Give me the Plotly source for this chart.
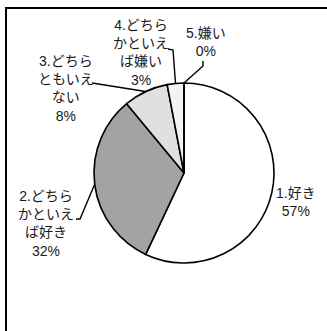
import math
import plotly.graph_objects as go

# Survey answers (percent), drawn clockwise from 12 o'clock
categories = ["1.好き", "2.どちらかといえば好き", "3.どちらともいえない", "4.どちらかといえば嫌い", "5.嫌い"]
values = [57, 32, 8, 3, 0]
label_lines = [
    ["1.好き"],
    ["2.どちら", "かといえ", "ば好き"],
    ["3.どちら", "ともいえ", "ない"],
    ["4.どちら", "かといえ", "ば嫌い"],
    ["5.嫌い"],
]
colors = ["#ffffff", "#a3a3a3", "#e0e0e0", "#f3f3f3", "#ffffff"]

W, H = 327, 331
CX, CY, R = 184, 173, 90  # pie centre and radius in pixels


def px(x, y):
    return x / W, 1 - y / H


fig = go.Figure(
    go.Pie(
        labels=categories,
        values=values,
        sort=False,
        direction="clockwise",
        rotation=0,
        marker=dict(colors=colors, line=dict(color="#000000", width=1.6)),
        textinfo="none",
        hoverinfo="skip",
        showlegend=False,
        domain=dict(x=[(CX - R) / W, (CX + R) / W], y=[1 - (CY + R) / H, 1 - (CY - R) / H]),
    )
)

# Label blocks: centre of the text block (pixels)
label_pos = [(296, 202), (46, 223), (66, 88), (141, 52), (206, 42)]
# Leader line bends / ends per slice (pixels); None = no leader line
leader_tail = [None, [(80, 219), (76, 219)], [(92, 83)], [(173, 50), (168, 49)], [(203, 66), (203, 61)]]

font = dict(family="Liberation Sans, Noto Sans CJK JP, sans-serif", size=14, color="#1a1a1a")
total = sum(values)
cum = 0
shapes = []
annotations = []
for i, v in enumerate(values):
    mid = (cum + v / 2) / total * 2 * math.pi
    cum += v
    sx, sy = CX + R * math.sin(mid), CY - R * math.cos(mid)
    pct = f"{round(v / total * 100)}%"
    text = "<br>".join(label_lines[i] + [pct])
    lx, ly = px(*label_pos[i])
    annotations.append(dict(x=lx, y=ly, xref="paper", yref="paper", text=text, showarrow=False,
                            xanchor="center", yanchor="middle", align="center", font=font))
    if leader_tail[i]:
        pts = [(sx, sy)] + leader_tail[i]
        path = "M " + " L ".join(f"{px(x, y)[0]:.5f},{px(x, y)[1]:.5f}" for x, y in pts)
        shapes.append(dict(type="path", xref="paper", yref="paper", path=path,
                           line=dict(color="#000000", width=1.4)))

# Chart frame (continues past the right and bottom edges)
fx0, fy0 = px(6, 8)
shapes.append(dict(type="rect", xref="paper", yref="paper", x0=fx0, y0=-0.05, x1=1.05, y1=fy0,
                   line=dict(color="#000000", width=2), fillcolor="rgba(0,0,0,0)"))

fig.update_layout(
    width=W, height=H,
    margin=dict(l=0, r=0, t=0, b=0),
    paper_bgcolor="#ffffff",
    plot_bgcolor="#ffffff",
    shapes=shapes,
    annotations=annotations,
)

fig.write_html("out.html")
